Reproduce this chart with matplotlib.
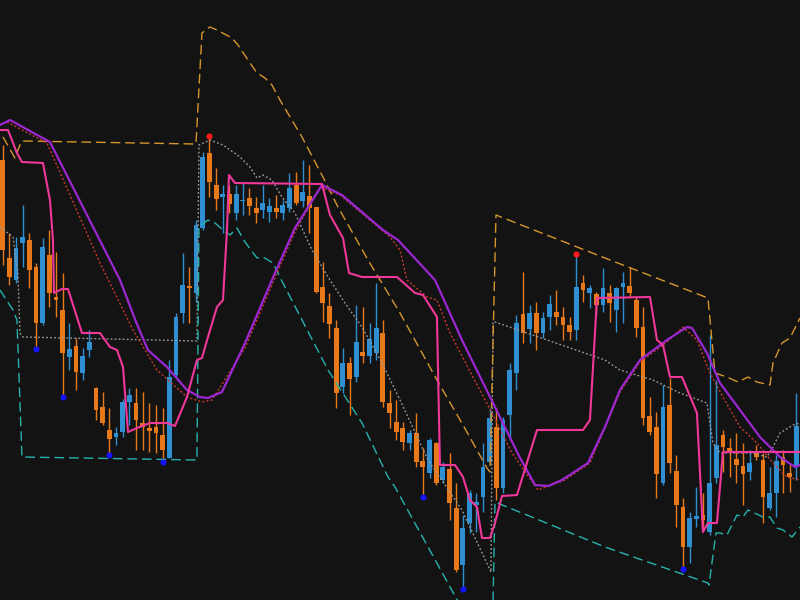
import numpy as np
import matplotlib
matplotlib.use("Agg")
import matplotlib.pyplot as plt

# candles: open, high, low, close (one entry per bar)
opens = [440, 342, 320, 357, 360, 333, 277, 345, 303, 290,
         243, 254, 227, 250, 212, 193, 170, 163, 168, 198,
         197, 177, 172, 173, 165, 142, 225, 287, 314, 307,
         372, 447, 415, 403, 406, 387, 399, 402, 392, 390,
         388, 392, 387, 392, 415, 399, 404, 393, 313, 294,
         272, 213, 237, 223, 248, 244, 247, 267, 197, 178,
         172, 157, 167, 139, 127, 157, 120, 131, 92, 35,
         77, 95, 103, 138, 173, 112, 185, 227, 286, 271,
         287, 267, 283, 288, 283, 275, 270, 317, 307, 306,
         295, 307, 290, 313, 314, 300, 273, 184, 173, 117,
         195, 129, 93, 53, 81, 85, 68, 122, 165, 152,
         141, 134, 128, 148, 140, 92, 107, 143, 127, 133]
highs = [455, 367, 363, 395, 367, 337, 362, 370, 348, 327,
         277, 262, 252, 270, 213, 208, 192, 173, 201, 212,
         212, 208, 197, 195, 192, 240, 287, 347, 333, 380,
         448, 463, 432, 415, 415, 415, 418, 412, 403, 415,
         402, 405, 400, 427, 428, 440, 435, 393, 338, 307,
         280, 252, 243, 295, 293, 277, 317, 280, 210, 200,
         178, 170, 187, 152, 162, 158, 138, 147, 117, 85,
         110, 107, 157, 192, 192, 183, 237, 285, 328, 295,
         298, 288, 305, 310, 293, 283, 345, 325, 315, 308,
         332, 315, 313, 328, 333, 303, 293, 203, 188, 215,
         222, 145, 102, 88, 113, 107, 265, 220, 170, 162,
         167, 157, 150, 155, 147, 133, 145, 150, 137, 207]
lows = [335, 315, 317, 333, 312, 253, 275, 293, 283, 205,
        230, 210, 220, 243, 180, 175, 147, 155, 163, 175,
        150, 150, 148, 147, 140, 142, 222, 277, 277, 298,
        370, 403, 390, 367, 387, 380, 385, 385, 377, 382,
        378, 382, 380, 388, 395, 393, 367, 307, 278, 262,
        192, 207, 185, 218, 237, 237, 240, 193, 172, 160,
        150, 150, 133, 105, 122, 115, 117, 80, 28, 13,
        67, 68, 88, 137, 100, 107, 160, 210, 257, 257,
        250, 262, 270, 275, 260, 260, 260, 298, 292, 285,
        288, 278, 268, 277, 303, 263, 175, 165, 102, 115,
        127, 73, 33, 37, 73, 70, 65, 117, 128, 123,
        117, 95, 120, 140, 77, 90, 83, 107, 108, 120]
closes = [350, 323, 352, 363, 330, 277, 353, 307, 300, 247,
          251, 228, 244, 258, 190, 177, 161, 167, 198, 205,
          180, 173, 169, 167, 150, 223, 283, 315, 312, 375,
          443, 418, 401, 406, 396, 406, 400, 394, 387, 397,
          394, 388, 395, 412, 397, 408, 392, 308, 297, 276,
          207, 237, 221, 258, 244, 261, 272, 198, 187, 168,
          158, 167, 138, 133, 160, 117, 133, 97, 30, 72,
          107, 98, 133, 182, 112, 180, 230, 277, 267, 287,
          267, 282, 296, 283, 275, 268, 313, 310, 312, 295,
          312, 297, 312, 317, 307, 272, 182, 168, 126, 193,
          137, 95, 53, 82, 84, 80, 117, 155, 153, 147,
          135, 126, 137, 143, 103, 107, 139, 135, 123, 174]

# fractal markers (bar index)
fractal_lows = [5, 9, 16, 24, 63, 69, 102]
fractal_highs = [31, 86]

# indicator lines: bar index, value
ma_x = [-0.40, 1.10, 7.09, 17.59, 20.0, 21.78, 24.63, 27.63, 29.58, 30.78,
        32.88, 36.33, 40.82, 43.82, 47.87, 50.87, 57.02, 59.27, 64.81, 68.86,
        73.81, 77.5, 79.81, 81.8, 83.85, 87.75, 90.30, 92.55, 95.55, 99.60,
        102.60, 103.35, 105.59, 107.54, 110.54, 113.54, 116.54, 118.79, 119.54]
ma_y = [475, 480, 458, 320, 278, 250, 233, 210, 203, 202,
        208, 257, 327, 372, 415, 405, 370, 360, 320, 260,
        193, 143, 115, 114, 120, 137, 173, 210, 240, 260,
        273, 272, 247, 217, 190, 163, 143, 133, 135]

sig_x = [0.64, 6.64, 14.59, 19.54, 23.13, 27.63, 29.88, 31.38, 36.33, 40.82,
         43.82, 47.57, 50.57, 58.07, 59.57, 60.62, 63.62, 65.11, 67.06, 70.51,
         73.36, 76.36, 80.25, 84.30, 88.05, 90.30, 92.55, 95.55, 99.60, 102.00,
         104.09, 106.04, 107.99, 110.54, 113.09, 115.49, 117.59, 119.54]
sig_y = [478, 457, 337, 270, 230, 203, 198, 200, 252, 322,
         368, 413, 405, 363, 350, 320, 303, 300, 267, 223,
         187, 147, 110, 120, 137, 172, 208, 238, 258, 273,
         260, 227, 203, 173, 157, 137, 123, 120]

fast_x = [-0.40, 0.80, 2.14, 2.89, 6.04, 7.09, 7.54, 7.69, 8.89, 9.79,
          11.89, 14.59, 16.09, 17.14, 18.04, 18.79, 20.13, 22.08, 24.63, 25.83,
          27.63, 29.13, 29.88, 30.78, 32.13, 33.03, 33.63, 33.93, 34.83, 47.87,
          49.07, 51.02, 51.92, 53.87, 59.12, 61.82, 63.02, 65.11, 65.56, 67.81,
          69.01, 70.06, 71.11, 71.86, 73.06, 73.81, 74.86, 77.11, 80.11, 87.00,
          88.05, 89.10, 97.05, 98.10, 99.00, 100.05, 101.85, 104.09, 104.99, 105.74,
          107.09, 107.99, 119.54]
fast_y = [470, 470, 447, 438, 437, 400, 360, 307, 311, 311,
          267, 267, 253, 250, 233, 168, 172, 177, 177, 174,
          203, 240, 242, 263, 293, 300, 370, 425, 417, 416,
          385, 362, 327, 323, 323, 307, 305, 283, 135, 135,
          123, 100, 93, 62, 62, 77, 104, 105, 170, 170,
          180, 302, 303, 260, 255, 223, 223, 187, 68, 77,
          77, 148, 148]

upper_x = [0.05, 1.84, 2.59, 2.89, 28.98, 29.88, 31.08, 32.13, 34.38, 35.28,
           37.08, 38.13, 39.33, 40.37, 41.57, 44.87, 48.02, 50.27, 54.77, 59.57,
           65.11, 69.01, 72.61, 73.06, 73.96, 90.30, 105.74, 106.79, 108.59, 110.24,
           111.74, 113.09, 115.04, 115.49, 116.84, 118.04, 119.54]
upper_y = [463, 442, 455, 459, 456, 567, 573, 570, 562, 555,
           537, 527, 522, 515, 500, 463, 423, 393, 340, 287,
           220, 175, 132, 128, 385, 342, 302, 227, 223, 218,
           223, 218, 215, 237, 257, 262, 282]

lower_x = [-0.40, 1.54, 2.14, 2.89, 29.13, 29.43, 30.78, 31.83, 33.03, 34.08,
           35.13, 36.33, 38.13, 39.03, 40.52, 42.32, 48.77, 53.87, 57.77, 58.82,
           68.56]
lower_y = [310, 290, 280, 143, 140, 373, 380, 377, 370, 365,
           372, 358, 342, 343, 337, 313, 230, 177, 123, 113,
           -5]
lower2_x = [73.51, 73.81, 90.30, 105.74, 105.89, 106.94, 107.54, 108.59, 110.09, 110.99,
            111.74, 113.99, 115.04, 116.09, 116.99, 118.34, 119.54]
lower2_y = [-5, 98, 53, 17, 15, 67, 67, 65, 85, 83,
            90, 83, 83, 72, 70, 63, 73]

mid_x = [-0.40, 1.54, 2.29, 2.59, 3.04, 29.13, 29.43, 31.08, 33.03, 35.58,
         37.08, 38.13, 39.03, 40.37, 41.87, 43.82, 46.37, 48.77, 51.32, 53.87,
         56.87, 59.57, 63.77, 68.86, 73.21, 73.51, 73.81, 90.30, 92.55, 97.50,
         101.55, 105.59, 106.49, 107.54, 112.49, 114.59, 115.49, 116.54, 118.49, 119.54]
mid_y = [373, 363, 327, 267, 263, 259, 455, 460, 455, 443,
         433, 422, 425, 420, 403, 387, 350, 323, 297, 273,
         237, 200, 140, 90, 28, 278, 278, 240, 230, 220,
         207, 197, 157, 147, 147, 143, 153, 167, 175, 177]

bg = '#131313'
up_col = '#2f8fd0'
down_col = '#e8791a'

fig = plt.figure(figsize=(8, 6), dpi=100, facecolor=bg)
ax = fig.add_axes([0, 0, 1, 1], facecolor=bg)

idx = np.arange(len(opens))
o = np.array(opens)
h = np.array(highs)
l = np.array(lows)
c = np.array(closes)
cols = np.where(c >= o, up_col, down_col)

ax.vlines(idx, l, h, colors=cols, linewidth=1.0, zorder=1)
body_lo = np.minimum(o, c)
body_h = np.maximum(np.abs(c - o), 1.5)
ax.bar(idx, body_h, bottom=body_lo, width=0.72, color=cols, linewidth=0, zorder=1.5)

ax.plot(mid_x, mid_y, color='#9a9a9a', lw=1.0, ls=(0, (1.3, 1.6)), zorder=2)
ax.plot(upper_x, upper_y, color='#d6962c', lw=1.0, ls=(0, (7, 3.5)), zorder=2)
ax.plot(lower_x, lower_y, color='#27b3ad', lw=1.0, ls=(0, (7, 3.5)), zorder=2)
ax.plot(lower2_x, lower2_y, color='#27b3ad', lw=1.0, ls=(0, (7, 3.5)), zorder=2)
ax.plot(sig_x, sig_y, color='#c83a2c', lw=1.0, ls=(0, (1.5, 1.5)), zorder=2.5)
ax.plot(ma_x, ma_y, color='#9b27d0', lw=1.6, zorder=3)
ax.plot(fast_x, fast_y, color='#f0389b', lw=1.5, zorder=3.2)

ax.plot(fractal_lows, l[fractal_lows] - 1.5, 'o', color='#1414ff', ms=4.4, mew=0, zorder=4)
ax.plot(fractal_highs, h[fractal_highs] + 1.5, 'o', color='#ff1a1a', ms=4.4, mew=0, zorder=4)

ax.set_xlim(-0.40, 119.54)
ax.set_ylim(0, 600)
ax.axis('off')

fig.savefig('out.png', dpi=100, facecolor=bg)
